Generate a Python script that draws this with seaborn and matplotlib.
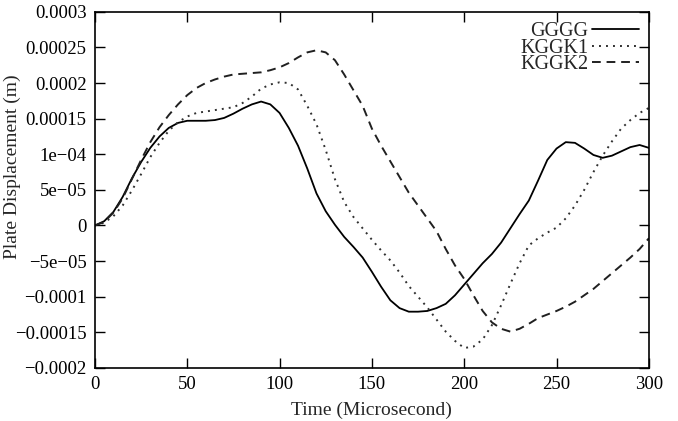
import numpy as np
import pandas as pd
import seaborn as sns
import matplotlib
matplotlib.use("Agg")
import matplotlib.pyplot as plt

# time samples (microsecond)
time = [0, 5, 10, 15, 20, 25, 30, 35, 40, 45, 50, 55, 60, 65, 70, 75, 80, 85, 90, 95,
        100, 105, 110, 115, 120, 125, 130, 135, 140, 145, 150, 155, 160, 165, 170, 175,
        180, 185, 190, 195, 200, 205, 210, 215, 220, 225, 230, 235, 240, 245, 250, 255,
        260, 265, 270, 275, 280, 285, 290, 295, 300]

# plate displacement in units of 1e-5 m
gggg = [0, 0.6, 1.9, 4.0, 6.6, 8.9, 10.9, 12.5, 13.7, 14.4, 14.7, 14.7, 14.7, 14.8,
        15.1, 15.7, 16.4, 17.0, 17.4, 17.0, 15.8, 13.7, 11.2, 8.0, 4.5, 2.0, 0.1, -1.6,
        -3.0, -4.5, -6.5, -8.6, -10.5, -11.6, -12.1, -12.1, -12.0, -11.6, -11.0, -9.8,
        -8.3, -6.8, -5.3, -4.0, -2.4, -0.4, 1.6, 3.5, 6.3, 9.2, 10.8, 11.7, 11.6, 10.8,
        9.9, 9.5, 9.8, 10.4, 11.0, 11.3, 10.9]

kggk1 = [0, 0.4, 1.3, 2.8, 4.9, 7.2, 9.6, 11.6, 13.3, 14.5, 15.3, 15.8, 16.0, 16.2,
         16.4, 16.6, 17.2, 18.1, 19.2, 19.8, 20.1, 20.0, 19.1, 16.8, 14.2, 10.6, 6.5,
         3.3, 1.2, -0.4, -2.0, -3.5, -4.9, -6.6, -8.5, -10.0, -11.5, -13.2, -14.9, -16.2,
         -17.2, -17.0, -16.0, -14.0, -11.2, -8.2, -5.3, -2.8, -1.8, -1.0, -0.3, 1.0, 2.8,
         5.0, 7.5, 9.8, 11.8, 13.6, 14.8, 15.8, 16.5]

kggk2 = [0, 0.5, 1.8, 3.8, 6.5, 9.2, 11.7, 13.8, 15.5, 17.0, 18.3, 19.3, 20.0, 20.5,
         20.9, 21.2, 21.3, 21.4, 21.5, 21.8, 22.2, 22.8, 23.6, 24.3, 24.6, 24.3, 23.2,
         21.2, 19.0, 16.8, 13.6, 11.2, 9.0, 6.8, 4.6, 2.8, 1.0, -0.8, -3.3, -5.6, -7.5,
         -9.8, -12.0, -13.6, -14.5, -14.9, -14.5, -13.8, -13.0, -12.5, -12.0, -11.4,
         -10.7, -9.8, -8.9, -7.8, -6.7, -5.6, -4.5, -3.3, -1.8]

series_names = ["GGGG", "KGGK1", "KGGK2"]
ytick_values = [0.0003, 0.00025, 0.0002, 0.00015, 0.0001, 0.00005, 0,
                -0.00005, -0.0001, -0.00015, -0.0002]
ytick_labels = ["0.0003", "0.00025", "0.0002", "0.00015", "1e\u221204", "5e\u221205", "0",
                "\u22125e\u221205", "\u22120.0001", "\u22120.00015", "\u22120.0002"]
xtick_values = [0, 50, 100, 150, 200, 250, 300]

df = pd.DataFrame({"time": time * 3,
                   "disp": np.array(gggg + kggk1 + kggk2) * 1e-5,
                   "case": sum([[n] * len(time) for n in series_names], [])})

sns.set_style("ticks")
plt.rcParams["font.family"] = ["Liberation Serif", "DejaVu Serif"]
plt.rcParams["font.size"] = 13.5

fig = plt.figure(figsize=(6.78, 4.21), dpi=100)
ax = fig.add_axes([0.140, 0.126, 0.817, 0.846])

styles = {"GGGG": dict(color="black", lw=1.3, ls="-"),
          "KGGK1": dict(color="#303030", lw=1.4, ls=(0, (1, 2.6))),
          "KGGK2": dict(color="#202020", lw=1.4, ls=(0, (4.5, 3)))}
for name in series_names:
    sub = df[df["case"] == name]
    sns.lineplot(x=sub["time"], y=sub["disp"], ax=ax, label=name, **styles[name])

ax.set_xlim(0, 300)
ax.set_ylim(-0.0002, 0.0003)
ax.set_xticks(xtick_values)
ax.set_xticklabels([str(v) for v in xtick_values])
ax.set_yticks(ytick_values)
ax.set_yticklabels(ytick_labels)
ax.tick_params(direction="in", top=True, right=True, length=7, width=1,
               labelsize=13.5, pad=6, colors="black")
for s in ax.spines.values():
    s.set_linewidth(1.2)
    s.set_color("black")

ax.set_xlabel("Time (Microsecond)", fontsize=14)
ax.xaxis.set_label_coords(0.5, -0.094)
ax.set_ylabel("Plate Displacement (m)", fontsize=14)
ax.yaxis.set_label_coords(-0.133, 0.565)

ax.legend(loc="upper right", frameon=False, markerfirst=False, fontsize=14.5,
          handlelength=2.3, handletextpad=0.2, labelspacing=-0.12,
          borderaxespad=0.1)

fig.savefig("out.png", dpi=100)
